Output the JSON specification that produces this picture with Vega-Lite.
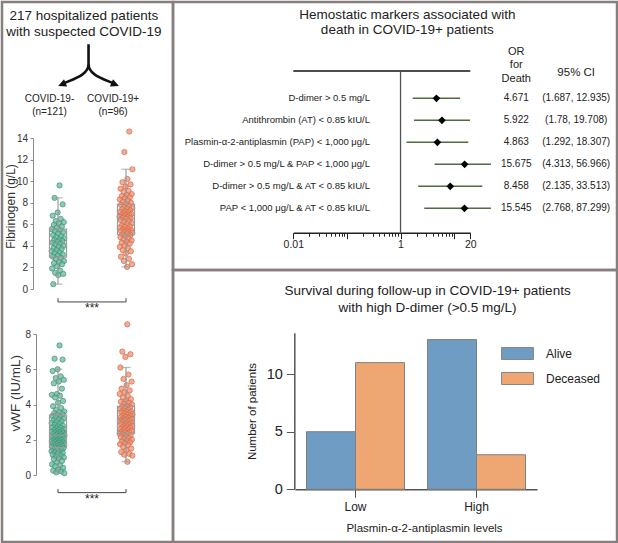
{
  "$schema": "https://vega.github.io/schema/vega-lite/v6.json",
  "background": "white",
  "padding": 0,
  "spacing": 0,
  "bounds": "flush",
  "resolve": {"scale": {"color": "independent", "stroke": "independent"}, "legend": {"color": "independent", "stroke": "independent"}},
  "config": {"font": "Liberation Sans", "view": {"stroke": "#877e7e", "strokeWidth": 2.5}, "axis": {"grid": false}},
  "datasets": {
    "fibPts": [
      {"group":"COVID-19-","value":9.6},{"group":"COVID-19-","value":8.45},{"group":"COVID-19-","value":7.85},{"group":"COVID-19-","value":7.1},{"group":"COVID-19-","value":6.8},{"group":"COVID-19-","value":6.5},{"group":"COVID-19-","value":6.3},{"group":"COVID-19-","value":6.2},{"group":"COVID-19-","value":6.1},{"group":"COVID-19-","value":5.95},{"group":"COVID-19-","value":5.8},{"group":"COVID-19-","value":5.7},{"group":"COVID-19-","value":5.55},{"group":"COVID-19-","value":5.45},{"group":"COVID-19-","value":5.35},{"group":"COVID-19-","value":5.25},{"group":"COVID-19-","value":5.15},{"group":"COVID-19-","value":5.0},{"group":"COVID-19-","value":4.9},{"group":"COVID-19-","value":4.8},{"group":"COVID-19-","value":4.7},{"group":"COVID-19-","value":4.6},{"group":"COVID-19-","value":4.55},{"group":"COVID-19-","value":4.45},{"group":"COVID-19-","value":4.4},{"group":"COVID-19-","value":4.3},{"group":"COVID-19-","value":4.2},{"group":"COVID-19-","value":4.1},{"group":"COVID-19-","value":4.0},{"group":"COVID-19-","value":3.9},{"group":"COVID-19-","value":3.8},{"group":"COVID-19-","value":3.7},{"group":"COVID-19-","value":3.6},{"group":"COVID-19-","value":3.5},{"group":"COVID-19-","value":3.4},{"group":"COVID-19-","value":3.3},{"group":"COVID-19-","value":3.2},{"group":"COVID-19-","value":3.1},{"group":"COVID-19-","value":3.0},{"group":"COVID-19-","value":2.9},{"group":"COVID-19-","value":2.8},{"group":"COVID-19-","value":2.6},{"group":"COVID-19-","value":2.5},{"group":"COVID-19-","value":2.4},{"group":"COVID-19-","value":2.3},{"group":"COVID-19-","value":2.1},{"group":"COVID-19-","value":1.9},{"group":"COVID-19-","value":1.7},{"group":"COVID-19-","value":1.5},{"group":"COVID-19-","value":1.4},{"group":"COVID-19-","value":1.3},{"group":"COVID-19-","value":0.45},
      {"group":"COVID-19+","value":14.6},{"group":"COVID-19+","value":12.7},{"group":"COVID-19+","value":11.1},{"group":"COVID-19+","value":10.2},{"group":"COVID-19+","value":9.9},{"group":"COVID-19+","value":9.7},{"group":"COVID-19+","value":9.5},{"group":"COVID-19+","value":9.3},{"group":"COVID-19+","value":9.1},{"group":"COVID-19+","value":9.0},{"group":"COVID-19+","value":8.8},{"group":"COVID-19+","value":8.7},{"group":"COVID-19+","value":8.6},{"group":"COVID-19+","value":8.5},{"group":"COVID-19+","value":8.4},{"group":"COVID-19+","value":8.3},{"group":"COVID-19+","value":8.2},{"group":"COVID-19+","value":8.1},{"group":"COVID-19+","value":8.0},{"group":"COVID-19+","value":7.9},
      {"group":"COVID-19+","value":7.8},{"group":"COVID-19+","value":7.7},{"group":"COVID-19+","value":7.6},{"group":"COVID-19+","value":7.5},{"group":"COVID-19+","value":7.45},{"group":"COVID-19+","value":7.4},{"group":"COVID-19+","value":7.3},{"group":"COVID-19+","value":7.2},{"group":"COVID-19+","value":7.15},{"group":"COVID-19+","value":7.1},{"group":"COVID-19+","value":7.0},{"group":"COVID-19+","value":6.95},{"group":"COVID-19+","value":6.9},{"group":"COVID-19+","value":6.85},{"group":"COVID-19+","value":6.8},{"group":"COVID-19+","value":6.75},{"group":"COVID-19+","value":6.7},{"group":"COVID-19+","value":6.65},{"group":"COVID-19+","value":6.6},{"group":"COVID-19+","value":6.55},
      {"group":"COVID-19+","value":6.5},{"group":"COVID-19+","value":6.4},{"group":"COVID-19+","value":6.3},{"group":"COVID-19+","value":6.2},{"group":"COVID-19+","value":6.1},{"group":"COVID-19+","value":6.0},{"group":"COVID-19+","value":5.9},{"group":"COVID-19+","value":5.8},{"group":"COVID-19+","value":5.75},{"group":"COVID-19+","value":5.7},{"group":"COVID-19+","value":5.6},{"group":"COVID-19+","value":5.5},{"group":"COVID-19+","value":5.45},{"group":"COVID-19+","value":5.4},{"group":"COVID-19+","value":5.35},{"group":"COVID-19+","value":5.3},{"group":"COVID-19+","value":5.25},{"group":"COVID-19+","value":5.2},{"group":"COVID-19+","value":5.15},{"group":"COVID-19+","value":5.05},
      {"group":"COVID-19+","value":5.0},{"group":"COVID-19+","value":4.9},{"group":"COVID-19+","value":4.8},{"group":"COVID-19+","value":4.7},{"group":"COVID-19+","value":4.6},{"group":"COVID-19+","value":4.5},{"group":"COVID-19+","value":4.4},{"group":"COVID-19+","value":4.3},{"group":"COVID-19+","value":4.2},{"group":"COVID-19+","value":4.0},{"group":"COVID-19+","value":3.9},{"group":"COVID-19+","value":3.8},{"group":"COVID-19+","value":3.6},{"group":"COVID-19+","value":3.5},{"group":"COVID-19+","value":3.3},{"group":"COVID-19+","value":3.0},{"group":"COVID-19+","value":2.8},{"group":"COVID-19+","value":2.6},{"group":"COVID-19+","value":2.3},{"group":"COVID-19+","value":2.05}
    ],
    "vwfPts": [
      {"group":"COVID-19-","value":7.35},{"group":"COVID-19-","value":6.6},{"group":"COVID-19-","value":6.55},{"group":"COVID-19-","value":6.0},{"group":"COVID-19-","value":5.9},{"group":"COVID-19-","value":5.6},{"group":"COVID-19-","value":5.5},{"group":"COVID-19-","value":5.4},{"group":"COVID-19-","value":5.3},{"group":"COVID-19-","value":5.2},{"group":"COVID-19-","value":4.9},{"group":"COVID-19-","value":4.6},{"group":"COVID-19-","value":4.55},{"group":"COVID-19-","value":4.5},{"group":"COVID-19-","value":4.4},{"group":"COVID-19-","value":4.2},{"group":"COVID-19-","value":4.1},{"group":"COVID-19-","value":3.9},{"group":"COVID-19-","value":3.8},{"group":"COVID-19-","value":3.7},{"group":"COVID-19-","value":3.6},{"group":"COVID-19-","value":3.55},{"group":"COVID-19-","value":3.5},{"group":"COVID-19-","value":3.45},{"group":"COVID-19-","value":3.4},{"group":"COVID-19-","value":3.35},{"group":"COVID-19-","value":3.3},
      {"group":"COVID-19-","value":3.25},{"group":"COVID-19-","value":3.2},{"group":"COVID-19-","value":3.15},{"group":"COVID-19-","value":3.1},{"group":"COVID-19-","value":3.05},{"group":"COVID-19-","value":3.0},{"group":"COVID-19-","value":2.95},{"group":"COVID-19-","value":2.9},{"group":"COVID-19-","value":2.85},{"group":"COVID-19-","value":2.8},{"group":"COVID-19-","value":2.75},{"group":"COVID-19-","value":2.7},{"group":"COVID-19-","value":2.68},{"group":"COVID-19-","value":2.65},{"group":"COVID-19-","value":2.6},{"group":"COVID-19-","value":2.58},{"group":"COVID-19-","value":2.55},{"group":"COVID-19-","value":2.5},{"group":"COVID-19-","value":2.48},{"group":"COVID-19-","value":2.45},{"group":"COVID-19-","value":2.42},{"group":"COVID-19-","value":2.4},{"group":"COVID-19-","value":2.38},{"group":"COVID-19-","value":2.35},{"group":"COVID-19-","value":2.32},{"group":"COVID-19-","value":2.3},{"group":"COVID-19-","value":2.28},{"group":"COVID-19-","value":2.25},
      {"group":"COVID-19-","value":2.22},{"group":"COVID-19-","value":2.2},{"group":"COVID-19-","value":2.18},{"group":"COVID-19-","value":2.15},{"group":"COVID-19-","value":2.12},{"group":"COVID-19-","value":2.1},{"group":"COVID-19-","value":2.08},{"group":"COVID-19-","value":2.05},{"group":"COVID-19-","value":2.02},{"group":"COVID-19-","value":2.0},{"group":"COVID-19-","value":1.98},{"group":"COVID-19-","value":1.95},{"group":"COVID-19-","value":1.92},{"group":"COVID-19-","value":1.9},{"group":"COVID-19-","value":1.88},{"group":"COVID-19-","value":1.85},{"group":"COVID-19-","value":1.82},{"group":"COVID-19-","value":1.8},{"group":"COVID-19-","value":1.78},{"group":"COVID-19-","value":1.75},{"group":"COVID-19-","value":1.72},{"group":"COVID-19-","value":1.7},{"group":"COVID-19-","value":1.68},{"group":"COVID-19-","value":1.65},{"group":"COVID-19-","value":1.62},{"group":"COVID-19-","value":1.6},{"group":"COVID-19-","value":1.58},{"group":"COVID-19-","value":1.55},
      {"group":"COVID-19-","value":1.52},{"group":"COVID-19-","value":1.5},{"group":"COVID-19-","value":1.45},{"group":"COVID-19-","value":1.42},{"group":"COVID-19-","value":1.4},{"group":"COVID-19-","value":1.35},{"group":"COVID-19-","value":1.3},{"group":"COVID-19-","value":1.28},{"group":"COVID-19-","value":1.25},{"group":"COVID-19-","value":1.2},{"group":"COVID-19-","value":1.15},{"group":"COVID-19-","value":1.1},{"group":"COVID-19-","value":1.05},{"group":"COVID-19-","value":1.0},{"group":"COVID-19-","value":0.95},{"group":"COVID-19-","value":0.9},{"group":"COVID-19-","value":0.8},{"group":"COVID-19-","value":0.7},{"group":"COVID-19-","value":0.6},{"group":"COVID-19-","value":0.55},{"group":"COVID-19-","value":0.5},{"group":"COVID-19-","value":0.4},{"group":"COVID-19-","value":0.3},{"group":"COVID-19-","value":0.25},{"group":"COVID-19-","value":0.2},{"group":"COVID-19-","value":0.15},{"group":"COVID-19-","value":0.1},
      {"group":"COVID-19+","value":8.55},{"group":"COVID-19+","value":7.0},{"group":"COVID-19+","value":6.85},{"group":"COVID-19+","value":6.7},{"group":"COVID-19+","value":6.1},{"group":"COVID-19+","value":5.7},{"group":"COVID-19+","value":5.45},{"group":"COVID-19+","value":5.3},{"group":"COVID-19+","value":5.1},{"group":"COVID-19+","value":4.9},{"group":"COVID-19+","value":4.8},{"group":"COVID-19+","value":4.7},{"group":"COVID-19+","value":4.6},{"group":"COVID-19+","value":4.5},{"group":"COVID-19+","value":4.4},{"group":"COVID-19+","value":4.3},{"group":"COVID-19+","value":4.2},{"group":"COVID-19+","value":4.15},{"group":"COVID-19+","value":4.1},{"group":"COVID-19+","value":4.05},{"group":"COVID-19+","value":4.0},{"group":"COVID-19+","value":3.92},
      {"group":"COVID-19+","value":3.88},{"group":"COVID-19+","value":3.85},{"group":"COVID-19+","value":3.8},{"group":"COVID-19+","value":3.75},{"group":"COVID-19+","value":3.7},{"group":"COVID-19+","value":3.65},{"group":"COVID-19+","value":3.6},{"group":"COVID-19+","value":3.58},{"group":"COVID-19+","value":3.55},{"group":"COVID-19+","value":3.5},{"group":"COVID-19+","value":3.48},{"group":"COVID-19+","value":3.45},{"group":"COVID-19+","value":3.4},{"group":"COVID-19+","value":3.38},{"group":"COVID-19+","value":3.35},{"group":"COVID-19+","value":3.3},{"group":"COVID-19+","value":3.28},{"group":"COVID-19+","value":3.25},{"group":"COVID-19+","value":3.2},{"group":"COVID-19+","value":3.18},{"group":"COVID-19+","value":3.15},{"group":"COVID-19+","value":3.12},{"group":"COVID-19+","value":3.1},
      {"group":"COVID-19+","value":3.08},{"group":"COVID-19+","value":3.05},{"group":"COVID-19+","value":3.0},{"group":"COVID-19+","value":2.98},{"group":"COVID-19+","value":2.95},{"group":"COVID-19+","value":2.9},{"group":"COVID-19+","value":2.88},{"group":"COVID-19+","value":2.85},{"group":"COVID-19+","value":2.8},{"group":"COVID-19+","value":2.78},{"group":"COVID-19+","value":2.75},{"group":"COVID-19+","value":2.7},{"group":"COVID-19+","value":2.68},{"group":"COVID-19+","value":2.65},{"group":"COVID-19+","value":2.6},{"group":"COVID-19+","value":2.58},{"group":"COVID-19+","value":2.55},{"group":"COVID-19+","value":2.5},{"group":"COVID-19+","value":2.48},{"group":"COVID-19+","value":2.45},{"group":"COVID-19+","value":2.42},{"group":"COVID-19+","value":2.4},{"group":"COVID-19+","value":2.35},
      {"group":"COVID-19+","value":2.32},{"group":"COVID-19+","value":2.3},{"group":"COVID-19+","value":2.25},{"group":"COVID-19+","value":2.2},{"group":"COVID-19+","value":2.15},{"group":"COVID-19+","value":2.1},{"group":"COVID-19+","value":2.05},{"group":"COVID-19+","value":2.0},{"group":"COVID-19+","value":1.95},{"group":"COVID-19+","value":1.9},{"group":"COVID-19+","value":1.85},{"group":"COVID-19+","value":1.8},{"group":"COVID-19+","value":1.75},{"group":"COVID-19+","value":1.7},{"group":"COVID-19+","value":1.6},{"group":"COVID-19+","value":1.5},{"group":"COVID-19+","value":1.4},{"group":"COVID-19+","value":1.3},{"group":"COVID-19+","value":1.2},{"group":"COVID-19+","value":1.15},{"group":"COVID-19+","value":1.1},{"group":"COVID-19+","value":0.75}
    ],
    "fibBox": [
      {"group":"COVID-19-","lo":0.45,"q1":2.95,"med":4.25,"q3":5.55,"hi":8.45},
      {"group":"COVID-19+","lo":2.05,"q1":5.05,"med":6.5,"q3":7.85,"hi":11.1}
    ],
    "vwfBox": [
      {"group":"COVID-19-","lo":0.1,"q1":1.55,"med":2.25,"q3":3.4,"hi":6.0},
      {"group":"COVID-19+","lo":0.75,"q1":2.35,"med":3.1,"q3":3.9,"hi":6.1}
    ],
    "forest": [
      {"marker":"D-dimer > 0.5 mg/L","or":4.671,"lo":1.687,"hi":12.935},
      {"marker":"Antithrombin (AT) < 0.85 kIU/L","or":5.922,"lo":1.78,"hi":19.708},
      {"marker":"Plasmin-α-2-antiplasmin (PAP) < 1,000 μg/L","or":4.863,"lo":1.292,"hi":18.307},
      {"marker":"D-dimer > 0.5 mg/L & PAP < 1,000 μg/L","or":15.675,"lo":4.313,"hi":56.966},
      {"marker":"D-dimer > 0.5 mg/L & AT < 0.85 kIU/L","or":8.458,"lo":2.135,"hi":33.513},
      {"marker":"PAP < 1,000 μg/L & AT < 0.85 kIU/L","or":15.545,"lo":2.768,"hi":87.299}
    ],
    "survival": [
      {"level":"Low","status":"Alive","n":5},
      {"level":"Low","status":"Deceased","n":11},
      {"level":"High","status":"Alive","n":13},
      {"level":"High","status":"Deceased","n":3}
    ]
  },
  "hconcat": [
    {
      "width": 171,
      "height": 540,
      "resolve": {"scale": {"x": "independent", "y": "independent", "xOffset": "independent"}},
      "layer": [
        {"data": {"name": "fibPts"},
         "transform": [{"window": [{"op": "row_number", "as": "rn"}]}, {"calculate": "2 * ((datum.rn * 0.618034) % 1) - 1", "as": "jit"}],
         "mark": {"type": "point", "filled": true, "size": 28, "strokeWidth": 0.7, "fillOpacity": 0.75},
         "encoding": {
           "x": {"field": "group", "type": "nominal", "scale": {"type": "point", "domain": ["COVID-19-", "COVID-19+"], "range": [56, 124], "padding": 0}, "axis": null},
           "xOffset": {"field": "jit", "type": "quantitative", "scale": {"domain": [-1, 1], "range": [-6.5, 6.5]}},
           "y": {"field": "value", "type": "quantitative", "scale": {"domain": [0, 14], "range": [287, 136], "nice": false, "zero": false},
                 "axis": {"orient": "left", "offset": -31, "values": [0, 2, 4, 6, 8, 10, 12, 14], "tickSize": 3, "labelPadding": 2.5, "labelFontSize": 10, "labelColor": "#333", "domainColor": "#8a8a8a", "tickColor": "#8a8a8a", "grid": false, "title": "Fibrinogen (g/L)", "titleFontSize": 12, "titleFontWeight": "normal", "titleColor": "#333", "titleX": -23, "titleY": 204, "titleAngle": -90, "titleAlign": "center", "titleBaseline": "middle"}},
           "color": {"field": "group", "type": "nominal", "scale": {"domain": ["COVID-19-", "COVID-19+"], "range": ["#68b99e", "#f0906f"]}, "legend": null},
           "stroke": {"field": "group", "type": "nominal", "scale": {"domain": ["COVID-19-", "COVID-19+"], "range": ["#3f9176", "#cf6b4d"]}, "legend": null}}},
        {"data": {"name": "fibBox"}, "mark": {"type": "rule", "color": "#9b9b9b", "strokeWidth": 1.2},
         "encoding": {
           "x": {"field": "group", "type": "nominal", "scale": {"type": "point", "domain": ["COVID-19-", "COVID-19+"], "range": [56, 124], "padding": 0}, "axis": null},
           "y": {"field": "lo", "type": "quantitative", "scale": {"domain": [0, 14], "range": [287, 136], "nice": false, "zero": false}, "axis": null},
           "y2": {"field": "q1"}}},
        {"data": {"name": "fibBox"}, "mark": {"type": "rule", "color": "#9b9b9b", "strokeWidth": 1.2},
         "encoding": {
           "x": {"field": "group", "type": "nominal", "scale": {"type": "point", "domain": ["COVID-19-", "COVID-19+"], "range": [56, 124], "padding": 0}, "axis": null},
           "y": {"field": "q3", "type": "quantitative", "scale": {"domain": [0, 14], "range": [287, 136], "nice": false, "zero": false}, "axis": null},
           "y2": {"field": "hi"}}},
        {"data": {"name": "fibBox"}, "mark": {"type": "bar", "width": 17, "fill": "white", "fillOpacity": 0, "stroke": "#9b9b9b", "strokeWidth": 1.2},
         "encoding": {
           "x": {"field": "group", "type": "nominal", "scale": {"type": "point", "domain": ["COVID-19-", "COVID-19+"], "range": [56, 124], "padding": 0}, "axis": null},
           "y": {"field": "q1", "type": "quantitative", "scale": {"domain": [0, 14], "range": [287, 136], "nice": false, "zero": false}, "axis": null},
           "y2": {"field": "q3"}}},
        {"data": {"name": "fibBox"}, "mark": {"type": "tick", "size": 17, "thickness": 1.2, "color": "#9b9b9b"},
         "encoding": {
           "x": {"field": "group", "type": "nominal", "scale": {"type": "point", "domain": ["COVID-19-", "COVID-19+"], "range": [56, 124], "padding": 0}, "axis": null},
           "y": {"field": "med", "type": "quantitative", "scale": {"domain": [0, 14], "range": [287, 136], "nice": false, "zero": false}, "axis": null}}},
        {"data": {"name": "fibBox"}, "mark": {"type": "tick", "size": 9, "thickness": 1.2, "color": "#9b9b9b"},
         "encoding": {
           "x": {"field": "group", "type": "nominal", "scale": {"type": "point", "domain": ["COVID-19-", "COVID-19+"], "range": [56, 124], "padding": 0}, "axis": null},
           "y": {"field": "lo", "type": "quantitative", "scale": {"domain": [0, 14], "range": [287, 136], "nice": false, "zero": false}, "axis": null}}},
        {"data": {"name": "fibBox"}, "mark": {"type": "tick", "size": 9, "thickness": 1.2, "color": "#9b9b9b"},
         "encoding": {
           "x": {"field": "group", "type": "nominal", "scale": {"type": "point", "domain": ["COVID-19-", "COVID-19+"], "range": [56, 124], "padding": 0}, "axis": null},
           "y": {"field": "hi", "type": "quantitative", "scale": {"domain": [0, 14], "range": [287, 136], "nice": false, "zero": false}, "axis": null}}},
        {"data": {"values": [{"sig": "***"}]}, "mark": {"type": "rule", "color": "#444", "strokeWidth": 1},
         "encoding": {
           "x": {"datum": "COVID-19-", "type": "nominal", "scale": {"type": "point", "domain": ["COVID-19-", "COVID-19+"], "range": [56, 124], "padding": 0}, "axis": null},
           "x2": {"datum": "COVID-19+"},
           "y": {"datum": -1.2, "type": "quantitative", "scale": {"domain": [0, 14], "range": [287, 136], "nice": false, "zero": false}, "axis": null}}},
        {"data": {"values": [{"sig": "***"}]}, "mark": {"type": "rule", "color": "#444", "strokeWidth": 1},
         "encoding": {
           "x": {"datum": "COVID-19-", "type": "nominal", "scale": {"type": "point", "domain": ["COVID-19-", "COVID-19+"], "range": [56, 124], "padding": 0}, "axis": null},
           "y": {"datum": -1.2, "type": "quantitative", "scale": {"domain": [0, 14], "range": [287, 136], "nice": false, "zero": false}, "axis": null},
           "y2": {"datum": -0.85}}},
        {"data": {"values": [{"sig": "***"}]}, "mark": {"type": "rule", "color": "#444", "strokeWidth": 1},
         "encoding": {
           "x": {"datum": "COVID-19+", "type": "nominal", "scale": {"type": "point", "domain": ["COVID-19-", "COVID-19+"], "range": [56, 124], "padding": 0}, "axis": null},
           "y": {"datum": -1.2, "type": "quantitative", "scale": {"domain": [0, 14], "range": [287, 136], "nice": false, "zero": false}, "axis": null},
           "y2": {"datum": -0.85}}},
        {"data": {"values": [{"sig": "***"}]}, "mark": {"type": "text", "dx": 34, "fontSize": 12, "color": "#222", "baseline": "middle"},
         "encoding": {
           "x": {"datum": "COVID-19-", "type": "nominal", "scale": {"type": "point", "domain": ["COVID-19-", "COVID-19+"], "range": [56, 124], "padding": 0}, "axis": null},
           "y": {"datum": -1.76, "type": "quantitative", "scale": {"domain": [0, 14], "range": [287, 136], "nice": false, "zero": false}, "axis": null},
           "text": {"field": "sig"}}},
        {"data": {"name": "vwfPts"},
         "transform": [{"window": [{"op": "row_number", "as": "rn"}]}, {"calculate": "2 * ((datum.rn * 0.618034) % 1) - 1", "as": "jit"}],
         "mark": {"type": "point", "filled": true, "size": 28, "strokeWidth": 0.7, "fillOpacity": 0.75},
         "encoding": {
           "x": {"field": "group", "type": "nominal", "scale": {"type": "point", "domain": ["COVID-19-", "COVID-19+"], "range": [56, 124], "padding": 0}, "axis": null},
           "xOffset": {"field": "jit", "type": "quantitative", "scale": {"domain": [-1, 1], "range": [-6.5, 6.5]}},
           "y": {"field": "value", "type": "quantitative", "scale": {"domain": [0, 8], "range": [473, 332], "nice": false, "zero": false},
                 "axis": {"orient": "left", "offset": -34, "values": [0, 2, 4, 6, 8], "tickSize": 3, "labelPadding": 2.5, "labelFontSize": 10, "labelColor": "#333", "domainColor": "#8a8a8a", "tickColor": "#8a8a8a", "grid": false, "title": "vWF (IU/mL)", "titleFontSize": 13.5, "titleFontWeight": "normal", "titleColor": "#333", "titleX": -21, "titleY": 390.7, "titleAngle": -90, "titleAlign": "center", "titleBaseline": "middle"}},
           "color": {"field": "group", "type": "nominal", "scale": {"domain": ["COVID-19-", "COVID-19+"], "range": ["#68b99e", "#f0906f"]}, "legend": null},
           "stroke": {"field": "group", "type": "nominal", "scale": {"domain": ["COVID-19-", "COVID-19+"], "range": ["#3f9176", "#cf6b4d"]}, "legend": null}}},
        {"data": {"name": "vwfBox"}, "mark": {"type": "rule", "color": "#9b9b9b", "strokeWidth": 1.2},
         "encoding": {
           "x": {"field": "group", "type": "nominal", "scale": {"type": "point", "domain": ["COVID-19-", "COVID-19+"], "range": [56, 124], "padding": 0}, "axis": null},
           "y": {"field": "lo", "type": "quantitative", "scale": {"domain": [0, 8], "range": [473, 332], "nice": false, "zero": false}, "axis": null},
           "y2": {"field": "q1"}}},
        {"data": {"name": "vwfBox"}, "mark": {"type": "rule", "color": "#9b9b9b", "strokeWidth": 1.2},
         "encoding": {
           "x": {"field": "group", "type": "nominal", "scale": {"type": "point", "domain": ["COVID-19-", "COVID-19+"], "range": [56, 124], "padding": 0}, "axis": null},
           "y": {"field": "q3", "type": "quantitative", "scale": {"domain": [0, 8], "range": [473, 332], "nice": false, "zero": false}, "axis": null},
           "y2": {"field": "hi"}}},
        {"data": {"name": "vwfBox"}, "mark": {"type": "bar", "width": 17, "fill": "white", "fillOpacity": 0, "stroke": "#9b9b9b", "strokeWidth": 1.2},
         "encoding": {
           "x": {"field": "group", "type": "nominal", "scale": {"type": "point", "domain": ["COVID-19-", "COVID-19+"], "range": [56, 124], "padding": 0}, "axis": null},
           "y": {"field": "q1", "type": "quantitative", "scale": {"domain": [0, 8], "range": [473, 332], "nice": false, "zero": false}, "axis": null},
           "y2": {"field": "q3"}}},
        {"data": {"name": "vwfBox"}, "mark": {"type": "tick", "size": 17, "thickness": 1.2, "color": "#9b9b9b"},
         "encoding": {
           "x": {"field": "group", "type": "nominal", "scale": {"type": "point", "domain": ["COVID-19-", "COVID-19+"], "range": [56, 124], "padding": 0}, "axis": null},
           "y": {"field": "med", "type": "quantitative", "scale": {"domain": [0, 8], "range": [473, 332], "nice": false, "zero": false}, "axis": null}}},
        {"data": {"name": "vwfBox"}, "mark": {"type": "tick", "size": 9, "thickness": 1.2, "color": "#9b9b9b"},
         "encoding": {
           "x": {"field": "group", "type": "nominal", "scale": {"type": "point", "domain": ["COVID-19-", "COVID-19+"], "range": [56, 124], "padding": 0}, "axis": null},
           "y": {"field": "lo", "type": "quantitative", "scale": {"domain": [0, 8], "range": [473, 332], "nice": false, "zero": false}, "axis": null}}},
        {"data": {"name": "vwfBox"}, "mark": {"type": "tick", "size": 9, "thickness": 1.2, "color": "#9b9b9b"},
         "encoding": {
           "x": {"field": "group", "type": "nominal", "scale": {"type": "point", "domain": ["COVID-19-", "COVID-19+"], "range": [56, 124], "padding": 0}, "axis": null},
           "y": {"field": "hi", "type": "quantitative", "scale": {"domain": [0, 8], "range": [473, 332], "nice": false, "zero": false}, "axis": null}}},
        {"data": {"values": [{"sig": "***"}]}, "mark": {"type": "rule", "color": "#444", "strokeWidth": 1},
         "encoding": {
           "x": {"datum": "COVID-19-", "type": "nominal", "scale": {"type": "point", "domain": ["COVID-19-", "COVID-19+"], "range": [56, 124], "padding": 0}, "axis": null},
           "x2": {"datum": "COVID-19+"},
           "y": {"datum": -1.0, "type": "quantitative", "scale": {"domain": [0, 8], "range": [473, 332], "nice": false, "zero": false}, "axis": null}}},
        {"data": {"values": [{"sig": "***"}]}, "mark": {"type": "rule", "color": "#444", "strokeWidth": 1},
         "encoding": {
           "x": {"datum": "COVID-19-", "type": "nominal", "scale": {"type": "point", "domain": ["COVID-19-", "COVID-19+"], "range": [56, 124], "padding": 0}, "axis": null},
           "y": {"datum": -1.0, "type": "quantitative", "scale": {"domain": [0, 8], "range": [473, 332], "nice": false, "zero": false}, "axis": null},
           "y2": {"datum": -0.8}}},
        {"data": {"values": [{"sig": "***"}]}, "mark": {"type": "rule", "color": "#444", "strokeWidth": 1},
         "encoding": {
           "x": {"datum": "COVID-19+", "type": "nominal", "scale": {"type": "point", "domain": ["COVID-19-", "COVID-19+"], "range": [56, 124], "padding": 0}, "axis": null},
           "y": {"datum": -1.0, "type": "quantitative", "scale": {"domain": [0, 8], "range": [473, 332], "nice": false, "zero": false}, "axis": null},
           "y2": {"datum": -0.8}}},
        {"data": {"values": [{"sig": "***"}]}, "mark": {"type": "text", "dx": 34, "fontSize": 12, "color": "#222", "baseline": "middle"},
         "encoding": {
           "x": {"datum": "COVID-19-", "type": "nominal", "scale": {"type": "point", "domain": ["COVID-19-", "COVID-19+"], "range": [56, 124], "padding": 0}, "axis": null},
           "y": {"datum": -1.35, "type": "quantitative", "scale": {"domain": [0, 8], "range": [473, 332], "nice": false, "zero": false}, "axis": null},
           "text": {"field": "sig"}}},
        {"data": {"values": [{}]},
         "mark": {"type": "text", "text": ["217 hospitalized patients", "with suspected COVID-19"], "fontSize": 13.5, "lineHeight": 15.5, "color": "#222", "align": "center", "baseline": "middle"},
         "encoding": {
           "x": {"datum": 0.38, "type": "quantitative", "scale": {"domain": [0, 1], "range": [56, 124], "nice": false, "zero": false}, "axis": null},
           "y": {"datum": 25.3, "type": "quantitative", "scale": {"domain": [0, 14], "range": [287, 136], "nice": false, "zero": false}, "axis": null}}},
        {"data": {"values": [{}]},
         "mark": {"type": "text", "text": ["COVID-19-", "(n=121)"], "fontSize": 10, "lineHeight": 12.5, "color": "#222", "align": "center", "baseline": "middle"},
         "encoding": {
           "x": {"datum": -0.125, "type": "quantitative", "scale": {"domain": [0, 1], "range": [56, 124], "nice": false, "zero": false}, "axis": null},
           "y": {"datum": 17.57, "type": "quantitative", "scale": {"domain": [0, 14], "range": [287, 136], "nice": false, "zero": false}, "axis": null}}},
        {"data": {"values": [{}]},
         "mark": {"type": "text", "text": ["COVID-19+", "(n=96)"], "fontSize": 10, "lineHeight": 12.5, "color": "#222", "align": "center", "baseline": "middle"},
         "encoding": {
           "x": {"datum": 0.81, "type": "quantitative", "scale": {"domain": [0, 1], "range": [56, 124], "nice": false, "zero": false}, "axis": null},
           "y": {"datum": 17.57, "type": "quantitative", "scale": {"domain": [0, 14], "range": [287, 136], "nice": false, "zero": false}, "axis": null}}},
        {"data": {"values": [{}]},
         "mark": {"type": "point", "shape": "M0,-0.69L0,-0.05C0,0.3,-0.45,0.42,-0.82,0.58M0,-0.05C0,0.3,0.45,0.42,0.82,0.58", "size": 3844, "filled": false, "stroke": "#111", "strokeWidth": 2.6, "opacity": 1},
         "encoding": {
           "x": {"datum": 0.449, "type": "quantitative", "scale": {"domain": [0, 1], "range": [56, 124], "nice": false, "zero": false}, "axis": null},
           "y": {"datum": 20.72, "type": "quantitative", "scale": {"domain": [0, 14], "range": [287, 136], "nice": false, "zero": false}, "axis": null}}},
        {"data": {"values": [{}]},
         "mark": {"type": "point", "shape": "M-0.98,0.66L-0.69,0.68L-0.79,0.44ZM0.98,0.66L0.69,0.68L0.79,0.44Z", "size": 3844, "filled": true, "fill": "#111", "strokeWidth": 0, "opacity": 1},
         "encoding": {
           "x": {"datum": 0.449, "type": "quantitative", "scale": {"domain": [0, 1], "range": [56, 124], "nice": false, "zero": false}, "axis": null},
           "y": {"datum": 20.72, "type": "quantitative", "scale": {"domain": [0, 14], "range": [287, 136], "nice": false, "zero": false}, "axis": null}}}
      ]
    },
    {
      "vconcat": [
        {
          "width": 444,
          "height": 268,
          "resolve": {"scale": {"y": "independent"}},
          "layer": [
            {
              "data": {"name": "forest"},
              "transform": [{"calculate": "min(datum.hi, 48.5)", "as": "hiDraw"}, {"calculate": "'(' + datum.lo + ', ' + datum.hi + ')'", "as": "ci"}],
              "layer": [
                {"mark": {"type": "rule", "color": "#4e6b41", "strokeWidth": 1.5},
                 "encoding": {
                   "x": {"field": "lo", "type": "quantitative", "scale": {"type": "log", "domain": [0.01, 20], "range": [120.3, 297.3], "nice": false},
                         "axis": {"orient": "bottom", "offset": -37.3, "values": [0.01, 0.02, 0.03, 0.04, 0.05, 0.06, 0.07, 0.08, 0.09, 0.1, 0.2, 0.3, 0.4, 0.5, 0.6, 0.7, 0.8, 0.9, 1, 2, 3, 4, 5, 6, 7, 8, 9, 10, 20], "format": "~g", "labelExpr": "datum.value == 0.01 || datum.value == 1 || datum.value == 20 ? datum.label : ''", "tickSize": {"condition": {"test": "datum.value == 0.01 || datum.value == 1 || datum.value == 20 || datum.value == 0.1 || datum.value == 10", "value": 6}, "value": 3.5}, "tickColor": "#222", "domainColor": "#222", "domainWidth": 1.5, "labelFontSize": 10.5, "labelColor": "#222", "labelPadding": 1, "labelOverlap": false, "labelFlush": false, "labelBound": false, "title": null, "grid": false}},
                   "x2": {"field": "hiDraw"},
                   "y": {"field": "marker", "type": "nominal", "sort": null, "scale": {"type": "point", "domain": ["D-dimer > 0.5 mg/L", "Antithrombin (AT) < 0.85 kIU/L", "Plasmin-α-2-antiplasmin (PAP) < 1,000 μg/L", "D-dimer > 0.5 mg/L & PAP < 1,000 μg/L", "D-dimer > 0.5 mg/L & AT < 0.85 kIU/L", "PAP < 1,000 μg/L & AT < 0.85 kIU/L"], "range": [96.3, 206.3], "padding": 0}, "axis": null}}},
                {"mark": {"type": "point", "shape": "diamond", "filled": true, "color": "#000", "size": 60, "opacity": 1},
                 "encoding": {
                   "x": {"field": "or", "type": "quantitative"},
                   "y": {"field": "marker", "type": "nominal", "sort": null}}},
                {"mark": {"type": "text", "align": "right", "baseline": "middle", "fontSize": 9.5, "color": "#222"},
                 "encoding": {
                   "x": {"datum": 0.27},
                   "y": {"field": "marker", "type": "nominal", "sort": null},
                   "text": {"field": "marker"}}},
                {"mark": {"type": "text", "align": "center", "baseline": "middle", "fontSize": 10, "color": "#222"},
                 "encoding": {
                   "x": {"datum": 144},
                   "y": {"field": "marker", "type": "nominal", "sort": null},
                   "text": {"field": "or", "type": "nominal"}}},
                {"mark": {"type": "text", "align": "center", "baseline": "middle", "fontSize": 10, "color": "#222"},
                 "encoding": {
                   "x": {"datum": 1888},
                   "y": {"field": "marker", "type": "nominal", "sort": null},
                   "text": {"field": "ci"}}}
              ]
            },
            {
              "data": {"values": [{}]},
              "layer": [
                {"mark": {"type": "rule", "color": "#111", "strokeWidth": 1.5},
                 "encoding": {
                   "x": {"datum": 0.01}, "x2": {"datum": 20},
                   "y": {"datum": -0.24, "type": "quantitative", "scale": {"domain": [1, 6], "range": [96.3, 206.3], "nice": false, "zero": false}, "axis": null}}},
                {"mark": {"type": "rule", "color": "#555", "strokeWidth": 1.3},
                 "encoding": {
                   "x": {"datum": 1},
                   "y": {"datum": -0.24, "type": "quantitative", "scale": {"domain": [1, 6], "range": [96.3, 206.3], "nice": false, "zero": false}, "axis": null},
                   "y2": {"datum": 7.11}}},
                {"mark": {"type": "text", "text": ["Hemostatic markers associated with", "death in COVID-19+ patients"], "fontSize": 13.5, "lineHeight": 15.3, "align": "center", "baseline": "middle", "color": "#222"},
                 "encoding": {
                   "x": {"datum": 1.34},
                   "y": {"datum": -2.786, "type": "quantitative", "scale": {"domain": [1, 6], "range": [96.3, 206.3], "nice": false, "zero": false}, "axis": null}}},
                {"mark": {"type": "text", "text": ["OR", "for", "Death"], "fontSize": 11, "lineHeight": 13.5, "align": "center", "baseline": "middle", "color": "#222"},
                 "encoding": {
                   "x": {"datum": 144},
                   "y": {"datum": -1.105, "type": "quantitative", "scale": {"domain": [1, 6], "range": [96.3, 206.3], "nice": false, "zero": false}, "axis": null}}},
                {"mark": {"type": "text", "text": "95% CI", "fontSize": 11.5, "align": "center", "baseline": "middle", "color": "#222"},
                 "encoding": {
                   "x": {"datum": 1888},
                   "y": {"datum": -0.15, "type": "quantitative", "scale": {"domain": [1, 6], "range": [96.3, 206.3], "nice": false, "zero": false}, "axis": null}}}
              ]
            }
          ]
        },
        {
          "width": 444,
          "height": 272,
          "layer": [
            {
              "data": {"name": "survival"},
              "mark": {"type": "bar", "stroke": "#7f7f7f", "strokeWidth": 1},
              "encoding": {
                "x": {"field": "level", "type": "nominal", "sort": ["Low", "High"], "scale": {"type": "band", "domain": ["Low", "High"], "range": [122, 364], "paddingInner": 0.19, "paddingOuter": 0.095},
                      "axis": {"orient": "bottom", "offset": -52.7, "title": "Plasmin-α-2-antiplasmin levels", "labelAngle": 0, "labelFontSize": 12, "labelColor": "#222", "tickSize": 8, "labelPadding": 4, "domainColor": "#555", "tickColor": "#555", "domainWidth": 1.5, "titleFontSize": 11.5, "titleFontWeight": "normal", "titleColor": "#222", "titleX": 251, "titleY": 39, "titleBaseline": "middle", "grid": false}},
                "xOffset": {"field": "status", "type": "nominal", "sort": ["Alive", "Deceased"]},
                "y": {"field": "n", "type": "quantitative", "scale": {"domain": [0, 13.6], "range": [219.3, 62.7], "nice": false},
                      "axis": {"orient": "left", "offset": -121.3, "values": [0, 5, 10], "title": "Number of patients", "tickSize": 8, "labelPadding": 4, "labelFontSize": 14.5, "labelColor": "#222", "domainColor": "#555", "tickColor": "#555", "domainWidth": 1.5, "titleFontSize": 11.5, "titleFontWeight": "normal", "titleColor": "#222", "titlePadding": 9, "grid": false}},
                "color": {"field": "status", "type": "nominal", "scale": {"domain": ["Alive", "Deceased"], "range": ["#6e9cc3", "#eea672"]},
                          "legend": {"title": null, "orient": "none", "legendX": 328, "legendY": 335, "symbolType": "M-1,-0.375H1V0.375H-1Z", "symbolSize": 1024, "symbolStrokeColor": "#888", "symbolStrokeWidth": 1, "symbolOpacity": 1, "labelFontSize": 12, "labelColor": "#222", "labelOffset": 12, "rowPadding": -8}}
              }
            },
            {
              "data": {"values": [{}]},
              "mark": {"type": "text", "text": ["Survival during follow-up in COVID-19+ patients", "with high D-dimer (>0.5 mg/L)"], "fontSize": 13.5, "lineHeight": 16.5, "align": "center", "baseline": "middle", "color": "#222", "dx": -49},
              "encoding": {
                "x": {"datum": "High", "type": "nominal"},
                "y": {"datum": 17.22, "type": "quantitative"}
              }
            }
          ]
        }
      ],
      "spacing": 0,
      "bounds": "flush"
    }
  ]
}
